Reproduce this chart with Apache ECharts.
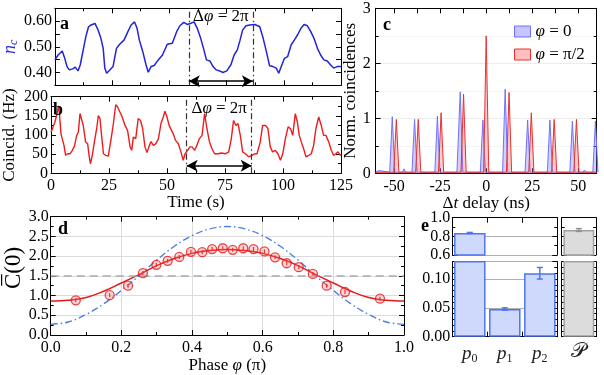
<!DOCTYPE html>
<html><head><meta charset="utf-8">
<script src="https://cdn.jsdelivr.net/npm/echarts@6/dist/echarts.min.js"></script>
<style>html,body{margin:0;padding:0;background:#fff}#c{width:604px;height:375px}</style>
</head><body><div id="c"></div>
<script>
// ---------- Panel a: n_c vs time [t (s), n_c] ----------
const ncSeries = [[0,0.449],[1.4,0.468],[3.2,0.484],[4.3,0.455],[5.3,0.423],[6.3,0.410],[7.8,0.414],[8.9,0.421],[10.1,0.406],[11.1,0.430],[12.5,0.494],[13.5,0.539],[14.7,0.578],[15.8,0.585],[17.5,0.591],[18.7,0.569],[20.1,0.533],[21.1,0.494],[21.8,0.417],[22.6,0.397],[24.0,0.410],[25.4,0.423],[26.9,0.494],[28.3,0.510],[30.2,0.526],[31.9,0.559],[33.3,0.585],[34.8,0.597],[35.9,0.572],[36.9,0.526],[38.4,0.481],[39.8,0.430],[40.8,0.401],[42.0,0.423],[43.4,0.427],[44.8,0.445],[47.0,0.468],[49.1,0.510],[51.3,0.514],[53.2,0.559],[54.6,0.582],[56.3,0.595],[57.8,0.587],[59.2,0.591],[60.8,0.597],[62.2,0.572],[63.7,0.533],[65.1,0.488],[66.2,0.449],[67.7,0.445],[69.1,0.423],[70.5,0.410],[72.0,0.406],[73.4,0.400],[75.1,0.406],[76.9,0.430],[78.3,0.468],[79.7,0.488],[80.9,0.526],[82.0,0.565],[83.5,0.582],[85.2,0.585],[87.4,0.587],[89.5,0.578],[91.0,0.533],[92.4,0.481],[93.8,0.426],[95.3,0.423],[96.7,0.417],[97.8,0.397],[98.9,0.423],[100.3,0.455],[101.7,0.462],[103.2,0.507],[104.6,0.526],[106.0,0.546],[107.5,0.572],[108.9,0.587],[110.3,0.582],[111.8,0.559],[113.2,0.533],[114.7,0.494],[116.1,0.468],[117.5,0.449],[119.0,0.445],[120.4,0.430],[121.8,0.417],[123.3,0.423],[125,0.423]];
// ---------- Panel b: coincidences vs time [t (s), Hz] ----------
const coincSeries = [[0,108],[0.6,116],[1.7,134],[2.6,156],[3.2,176],[3.7,151],[4.3,103],[4.9,99],[5.6,73],[6.3,47],[7.2,51],[8.2,51],[9.2,60],[10.1,71],[11.1,99],[11.8,108],[12.5,156],[13.2,151],[13.9,125],[14.9,82],[15.8,77],[16.4,47],[17.0,25],[17.8,47],[18.7,82],[19.7,117],[20.4,151],[21.1,143],[21.8,99],[22.6,51],[23.6,47],[24.7,45],[25.9,90],[26.9,130],[27.9,179],[28.7,173],[29.7,160],[30.7,147],[31.9,125],[33.0,112],[34.1,69],[34.8,60],[35.5,95],[36.5,90],[37.6,143],[38.6,138],[39.5,117],[40.5,69],[41.4,54],[42.2,69],[43.1,83],[44.1,73],[45.1,77],[46.3,90],[47.4,130],[48.4,147],[49.1,162],[50.0,147],[50.9,125],[51.7,130],[52.7,103],[53.7,86],[54.9,77],[56.0,56],[57.0,34],[57.8,51],[58.9,60],[59.9,69],[60.8,69],[61.9,60],[62.9,73],[63.9,90],[65.1,99],[66.2,156],[67.2,117],[68.3,82],[69.4,64],[70.5,51],[72.0,51],[73.4,53],[75.1,51],[76.6,56],[77.7,90],[78.7,138],[79.7,125],[80.6,130],[81.6,99],[82.6,56],[83.8,51],[85.2,43],[86.6,47],[87.8,51],[88.8,51],[90.2,82],[91.2,125],[92.4,125],[93.5,117],[94.5,69],[95.5,56],[96.7,60],[97.8,51],[98.9,34],[99.9,51],[101.0,90],[102.2,121],[103.2,117],[104.2,99],[105.3,156],[106.2,134],[107.0,99],[107.9,82],[108.9,64],[109.9,43],[111.1,47],[112.2,51],[113.2,73],[114.2,117],[115.4,147],[116.5,125],[117.5,99],[118.5,99],[119.7,82],[120.8,60],[121.8,47],[122.8,51],[123.7,56],[124.7,47],[125,50]];
const deltaStart = 58.5, deltaEnd = 86.5;
// ---------- Panel c: normalized coincidence histogram ----------
const peakPosPhi0 = [-51.0,-38.9,-26.5,-14.1,-1.8,10.3,22.5,34.6,46.8,59.3];
const peakHPhi0   = [1.03,0.98,1.04,1.48,0.97,1.53,0.97,0.97,0.95,0.95];
const bumpsPhi0   = [[-58.3,0.05],[-44.6,0.08],[-32.5,0.03],[-16.7,0.04],[53.4,0.06]];
const peakPosPhiHalf = [-48.8,-36.9,-24.5,-12.3,0,12.4,24.5,36.9,49.0];
const peakHPhiHalf   = [0.98,0.98,1.10,1.44,2.50,1.47,1.10,0.98,0.98];
const bumpsPhiHalf   = [[-43.0,0.04],[-30.5,0.03],[6.0,0.03],[43.0,0.04],[55.5,0.03]];
const delayTicks = [-50,-25,0,25,50];
// ---------- Panel d: C(0) vs phase ----------
const phaseMeas = [0.071,0.167,0.219,0.261,0.299,0.331,0.364,0.397,0.429,0.457,0.487,0.515,0.545,0.574,0.605,0.635,0.668,0.702,0.742,0.781,0.833,0.932];
const c0Meas    = [0.88,1.01,1.25,1.57,1.78,1.88,1.98,2.11,2.10,2.18,2.20,2.16,2.20,2.18,2.12,1.97,1.82,1.72,1.55,1.25,1.09,0.92];
const c0Err     = 0.05;
const phaseFit  = [0,0.05,0.1,0.15,0.2,0.25,0.3,0.35,0.4,0.45,0.5,0.55,0.6,0.65,0.7,0.75,0.8,0.85,0.9,0.95,1.0];
const fitRed    = [0.86,0.88,0.95,1.11,1.32,1.53,1.76,1.94,2.07,2.14,2.17,2.14,2.07,1.94,1.76,1.53,1.32,1.11,0.95,0.88,0.86];
const fitBlue   = [0.27,0.33,0.52,0.79,1.13,1.50,1.90,2.25,2.52,2.69,2.75,2.69,2.52,2.25,1.90,1.50,1.13,0.79,0.52,0.33,0.27];
const classicalBound = 1.5;
// ---------- Panel e: photon-number probabilities ----------
const pCats = ['0','1','2'];
const pVals = [0.836,0.048,0.110];
const pErrs = [0.006,0.002,0.010];
const purityCats = ['P'];
const purityVal = [0.868];
const purityErr = [0.015];

const F = 'Liberation Serif';
const BLK = '#000';

function histo(pos, h, bumps){
  const all = pos.map((p,i)=>[p,h[i],1.4]).concat(bumps.map(b=>[b[0],b[1],0.8]));
  all.sort((a,b)=>a[0]-b[0]);
  const pts = [[-60,0.02]];
  all.forEach(([p,v,w])=>{ pts.push([p-w,0.02],[p,v],[p+w,0.02]); });
  if (pts[pts.length-1][0] < 60) pts.push([60,0.02]);
  return pts;
}
function errBar(color, cap, lw){
  return function(params, api){
    const x = api.value(0), lo = api.value(1), hi = api.value(2);
    const a = api.coord([x, lo]), b = api.coord([x, hi]);
    const s = {stroke: color, lineWidth: lw || 1.3};
    const ch = [{type:'line', shape:{x1:a[0],y1:a[1],x2:b[0],y2:b[1]}, style:s}];
    if (cap > 0) {
      ch.push({type:'line', shape:{x1:a[0]-cap,y1:a[1],x2:a[0]+cap,y2:a[1]}, style:s});
      ch.push({type:'line', shape:{x1:b[0]-cap,y1:b[1],x2:b[0]+cap,y2:b[1]}, style:s});
    }
    return {type:'group', children: ch};
  };
}

const tick = {show:true, inside:true, length:5, lineStyle:{color:BLK, width:1}};
const mtick = (n)=>({show:true, splitNumber:n, length:3, lineStyle:{color:BLK, width:1}});
const aline = {show:true, onZero:false, lineStyle:{color:BLK, width:1}};
const lab = (o)=>Object.assign({fontFamily:F, fontSize:16, color:BLK, margin:3}, o||{});

function valAxis(grid, pos, min, max, interval, o){
  const ax = {type:'value', gridIndex:grid, position:pos, min, max,
    axisLine:aline, axisTick:tick, minorTick:mtick(2), splitLine:{show:false},
    axisLabel:lab({show:false})};
  if (interval != null) ax.interval = interval;
  return Object.assign(ax, o||{});
}
function catAxis(grid, pos, data, o){
  return Object.assign({type:'category', gridIndex:grid, position:pos, data,
    axisLine:aline, axisTick:Object.assign({}, tick, {alignWithLabel:false}),
    splitLine:{show:false}, axisLabel:lab({show:false})}, o||{});
}
const onStep = (v, step, digits)=>{ const r = v/step; return Math.abs(r-Math.round(r))<1e-6 ? v.toFixed(digits) : ''; };

const grids = [
  {left:51, top:8.3, width:290, height:77},        // a
  {left:51, top:96.7, width:290, height:76.6},     // b
  {left:375.7, top:8.3, width:221, height:165},    // c
  {left:50.7, top:216.7, width:353.3, height:119}, // d
  {left:452.3, top:217.7, width:105, height:37.3}, // e top left
  {left:452.3, top:261.7, width:105, height:75},   // e bottom left
  {left:561.7, top:217.7, width:34.3, height:37.3},// e top right
  {left:561.7, top:261.7, width:34.3, height:75}   // e bottom right
];

const xAxes = [
  valAxis(0,'bottom',0,125,25),
  valAxis(0,'top',0,125,25),
  valAxis(1,'bottom',0,125,25,{axisLabel:lab({show:true, margin:4}), name:'Time (s)', nameLocation:'middle', nameGap:20,
    nameTextStyle:{fontFamily:F, fontSize:17, color:BLK}}),
  valAxis(1,'top',0,125,25),
  valAxis(2,'bottom',-60,60,null,{axisLabel:lab({show:true, margin:5, customValues:delayTicks}),
    axisTick:Object.assign({}, tick, {customValues:delayTicks}), minorTick:{show:false},
    name:'{i|Δ}{t|t}{i| delay (ns)}', nameLocation:'middle', nameGap:20,
    nameTextStyle:{rich:{i:{fontFamily:F,fontSize:17,color:BLK}, t:{fontFamily:F,fontSize:17,color:BLK,fontStyle:'italic'}}}}),
  valAxis(2,'top',-60,60,null,{axisTick:Object.assign({}, tick, {customValues:[-50,-37.5,-25,-12.5,0,12.5,25,37.5,50]}), minorTick:{show:false}}),
  valAxis(3,'bottom',0,1,0.2,{axisLabel:lab({show:true, margin:5, formatter:v=>v.toFixed(1)}), splitLine:{show:true, lineStyle:{color:'#dcdcdc'}},
    name:'{n|Phase }{i|φ}{n| (π)}', nameLocation:'middle', nameGap:22,
    nameTextStyle:{rich:{n:{fontFamily:F,fontSize:17,color:BLK}, i:{fontFamily:F,fontSize:17,color:BLK,fontStyle:'italic'}}}}),
  valAxis(3,'top',0,1,0.2),
  catAxis(4,'top',pCats),
  catAxis(5,'bottom',pCats,{axisLabel:lab({show:true, interval:0, margin:6, formatter:v=>'{p|p}{s|'+v+'}',
    rich:{p:{fontFamily:F,fontSize:19,fontStyle:'italic',color:'#222',lineHeight:22}, s:{fontFamily:F,fontSize:12,color:'#222',lineHeight:12,verticalAlign:'bottom'}}})}),
  catAxis(6,'top',purityCats),
  catAxis(7,'bottom',purityCats,{axisLabel:lab({show:true, interval:0, margin:4, formatter:()=>'𝒫', fontSize:21, color:'#222'})})
];

const yAxes = [
  valAxis(0,'left',0.35,0.65,0.05,{minorTick:{show:false}, axisLabel:lab({show:true, formatter:v=>onStep(v,0.1,2)}),
    name:'{n|n}{s|c}', nameLocation:'middle', nameGap:30, nameRotate:90,
    nameTextStyle:{rich:{n:{fontFamily:F,fontSize:18,fontStyle:'italic',color:'#2a2ae0',lineHeight:20}, s:{fontFamily:F,fontSize:12,fontStyle:'italic',color:'#2a2ae0',lineHeight:12,verticalAlign:'bottom'}}}}),
  valAxis(0,'right',0.35,0.65,0.05,{minorTick:{show:false}}),
  valAxis(1,'left',0,200,50,{axisLabel:lab({show:true}), name:'Coincid. (Hz)', nameLocation:'middle', nameGap:33, nameRotate:90,
    nameTextStyle:{fontFamily:F, fontSize:17, color:BLK}}),
  valAxis(1,'right',0,200,50),
  valAxis(2,'left',0,3,1,{axisLabel:lab({show:true, margin:5}), splitLine:{show:true, lineStyle:{color:'#ececec'}},
    minorSplitLine:{show:true, lineStyle:{color:'#f4f4f4'}},
    name:'Norm. coincidences', nameLocation:'middle', nameGap:15, nameRotate:90,
    nameTextStyle:{fontFamily:F, fontSize:17, color:BLK}}),
  valAxis(2,'right',0,3,1),
  valAxis(3,'left',0,3,0.5,{axisLabel:lab({show:true, margin:2, formatter:v=>v.toFixed(1)}), splitLine:{show:true, lineStyle:{color:'#dcdcdc'}}}),
  valAxis(3,'right',0,3,0.5),
  valAxis(4,'left',0.6,1.0,0.2,{axisLabel:lab({show:true, margin:2, formatter:v=>v.toFixed(1)}), splitLine:{show:true, lineStyle:{color:'#b0b0b0'}}}),
  valAxis(4,'right',0.6,1.0,0.2),
  valAxis(5,'left',0,0.13,0.05,{minorTick:mtick(5), axisLabel:lab({show:true, margin:2, formatter:v=>onStep(v,0.05,2)}), splitLine:{show:true, lineStyle:{color:'#b0b0b0'}}}),
  valAxis(5,'right',0,0.13,0.05,{minorTick:mtick(5)}),
  valAxis(6,'left',0.6,1.0,0.2,{splitLine:{show:true, lineStyle:{color:'#b0b0b0'}}}),
  valAxis(6,'right',0.6,1.0,0.2),
  valAxis(7,'left',0,0.13,0.05,{minorTick:mtick(5), splitLine:{show:true, lineStyle:{color:'#b0b0b0'}}}),
  valAxis(7,'right',0,0.13,0.05,{minorTick:mtick(5)})
];

const dashDot = [6,3,1.5,3];
const deltaLabel = {show:true, position:'inside', formatter:'{a|Δ}{b|φ}{a| = 2π}',
  rich:{a:{fontFamily:F,fontSize:17,color:BLK}, b:{fontFamily:F,fontSize:17,color:BLK,fontStyle:'italic'}}};

const series = [
  // panel a
  {type:'line', xAxisIndex:0, yAxisIndex:0, data:ncSeries, showSymbol:false, symbol:'none',
    lineStyle:{color:'#2323dc', width:1.5}, z:3,
    markLine:{silent:true, symbol:'none', label:{show:false}, lineStyle:{color:'#333', width:1.2, type:dashDot},
      data:[{xAxis:deltaStart},{xAxis:deltaEnd}]},
    markPoint:{silent:true, symbol:'circle', symbolSize:1, itemStyle:{color:'rgba(0,0,0,0)'}, label:deltaLabel,
      data:[{coord:[72.5,0.618]}]}},
  {type:'line', xAxisIndex:0, yAxisIndex:0, data:[], markLine:{silent:true, symbol:['arrow','arrow'], symbolSize:[9,11], label:{show:false},
    lineStyle:{color:BLK, width:1.5, type:'solid'}, data:[[{coord:[deltaStart,0.366]},{coord:[deltaEnd,0.366]}]]}},
  // panel b
  {type:'line', xAxisIndex:2, yAxisIndex:2, data:coincSeries, showSymbol:false, symbol:'none',
    lineStyle:{color:'#ee1c1c', width:1.4}, z:3,
    markLine:{silent:true, symbol:'none', label:{show:false}, lineStyle:{color:'#333', width:1.2, type:dashDot},
      data:[{xAxis:deltaStart},{xAxis:deltaEnd}]},
    markPoint:{silent:true, symbol:'circle', symbolSize:1, itemStyle:{color:'rgba(0,0,0,0)'}, label:deltaLabel,
      data:[{coord:[72.5,170]}]}},
  {type:'line', xAxisIndex:2, yAxisIndex:2, data:[], markLine:{silent:true, symbol:['arrow','arrow'], symbolSize:[9,11], label:{show:false},
    lineStyle:{color:BLK, width:1.5, type:'solid'}, data:[[{coord:[deltaStart,20]},{coord:[deltaEnd,20]}]]}},
  // panel c
  {name:'phi0', type:'line', xAxisIndex:4, yAxisIndex:4, data:histo(peakPosPhi0, peakHPhi0, bumpsPhi0), showSymbol:false, symbol:'none',
    lineStyle:{color:'#7070ff', width:1}, areaStyle:{color:'rgba(110,110,255,0.45)'}, itemStyle:{color:'rgba(110,110,255,0.4)'}, z:2},
  {name:'phipi2', type:'line', xAxisIndex:4, yAxisIndex:4, data:histo(peakPosPhiHalf, peakHPhiHalf, bumpsPhiHalf), showSymbol:false, symbol:'none',
    lineStyle:{color:'#e83030', width:1}, areaStyle:{color:'rgba(255,90,90,0.45)'}, itemStyle:{color:'rgba(255,90,90,0.4)'}, z:3},
  // panel d
  {type:'line', xAxisIndex:6, yAxisIndex:6, data:phaseFit.map((p,i)=>[p,fitBlue[i]]), smooth:0.4, showSymbol:false, symbol:'none',
    lineStyle:{color:'#4d7de6', width:1.4, type:[7,3,1.5,3]}, z:2},
  {type:'line', xAxisIndex:6, yAxisIndex:6, data:phaseFit.map((p,i)=>[p,fitRed[i]]), smooth:0.4, showSymbol:false, symbol:'none',
    lineStyle:{color:'#e31a1c', width:1.5}, z:3,
    markLine:{silent:true, symbol:'none', label:{show:false}, lineStyle:{color:'#aaaaaa', width:1.5, type:[8,5]}, data:[{yAxis:classicalBound}]}},
  {type:'custom', xAxisIndex:6, yAxisIndex:6, data:phaseMeas.map((p,i)=>[p,c0Meas[i]-c0Err,c0Meas[i]+c0Err]),
    renderItem:errBar('#e31a1c',0,1.2), z:4},
  {type:'scatter', xAxisIndex:6, yAxisIndex:6, data:phaseMeas.map((p,i)=>[p,c0Meas[i]]), symbol:'circle', symbolSize:9,
    itemStyle:{color:'rgba(255,110,110,0.35)', borderColor:'#e31a1c', borderWidth:1.3}, z:5},
  // panel e
  {type:'bar', xAxisIndex:8, yAxisIndex:8, data:pVals, barCategoryGap:'10%', clip:true,
    itemStyle:{color:'#cfd9fb', borderColor:'#4f74f0', borderWidth:1.5}},
  {type:'bar', xAxisIndex:9, yAxisIndex:10, data:pVals, barCategoryGap:'10%', clip:true,
    itemStyle:{color:'#cfd9fb', borderColor:'#4f74f0', borderWidth:1.5}},
  {type:'custom', xAxisIndex:8, yAxisIndex:8, data:[[0,pVals[0]-pErrs[0],pVals[0]+pErrs[0]]], renderItem:errBar('#4f74f0',3,1.5), z:5},
  {type:'custom', xAxisIndex:9, yAxisIndex:10, data:[1,2].map(i=>[i,pVals[i]-pErrs[i],pVals[i]+pErrs[i]]), renderItem:errBar('#4f74f0',3,1.5), z:5},
  {type:'bar', xAxisIndex:10, yAxisIndex:12, data:purityVal, barCategoryGap:'10%', clip:true,
    itemStyle:{color:'#dcdcdc', borderColor:'#a0a0a0', borderWidth:1.5}},
  {type:'bar', xAxisIndex:11, yAxisIndex:14, data:purityVal, barCategoryGap:'10%', clip:true,
    itemStyle:{color:'#dcdcdc', borderColor:'#a0a0a0', borderWidth:1.5}},
  {type:'custom', xAxisIndex:10, yAxisIndex:12, data:[[0,purityVal[0]-purityErr[0],purityVal[0]+purityErr[0]]], renderItem:errBar('#909090',3,1.5), z:5}
];

const panelLabel = (t,x,y)=>({type:'text', left:x, top:y, z:100, style:{text:t, font:'bold 18px "Liberation Serif"', fill:BLK}});

const chart = echarts.init(document.getElementById('c'), null, {renderer:'canvas'});
chart.setOption({
  animation:false,
  backgroundColor:'#fff',
  grid:grids,
  xAxis:xAxes,
  yAxis:yAxes,
  legend:{data:[{name:'phi0', icon:'rect', itemStyle:{color:'rgba(110,110,255,0.4)', borderColor:'#7070ff', borderWidth:1}},
                {name:'phipi2', icon:'rect', itemStyle:{color:'rgba(255,90,90,0.4)', borderColor:'#e83030', borderWidth:1}}],
    orient:'vertical', left:509, top:18, itemWidth:16, itemHeight:11, itemGap:6,
    formatter:n=> n==='phi0' ? '{i|φ}{n| = 0}' : '{i|φ}{n| = π/2}',
    textStyle:{rich:{i:{fontFamily:F,fontSize:17,fontStyle:'italic',color:BLK}, n:{fontFamily:F,fontSize:17,color:BLK}}}},
  graphic:[panelLabel('a',60,15), panelLabel('b',53,101), panelLabel('c',383,16), panelLabel('d',58,220), panelLabel('e',421,217),
    {type:'text', x:14, y:268, rotation:Math.PI/2, z:100,
      style:{text:'C\u0305(0)', font:'23px "Liberation Serif"', fill:BLK, align:'center', verticalAlign:'middle'}}],
  series
});
</script></body></html>
